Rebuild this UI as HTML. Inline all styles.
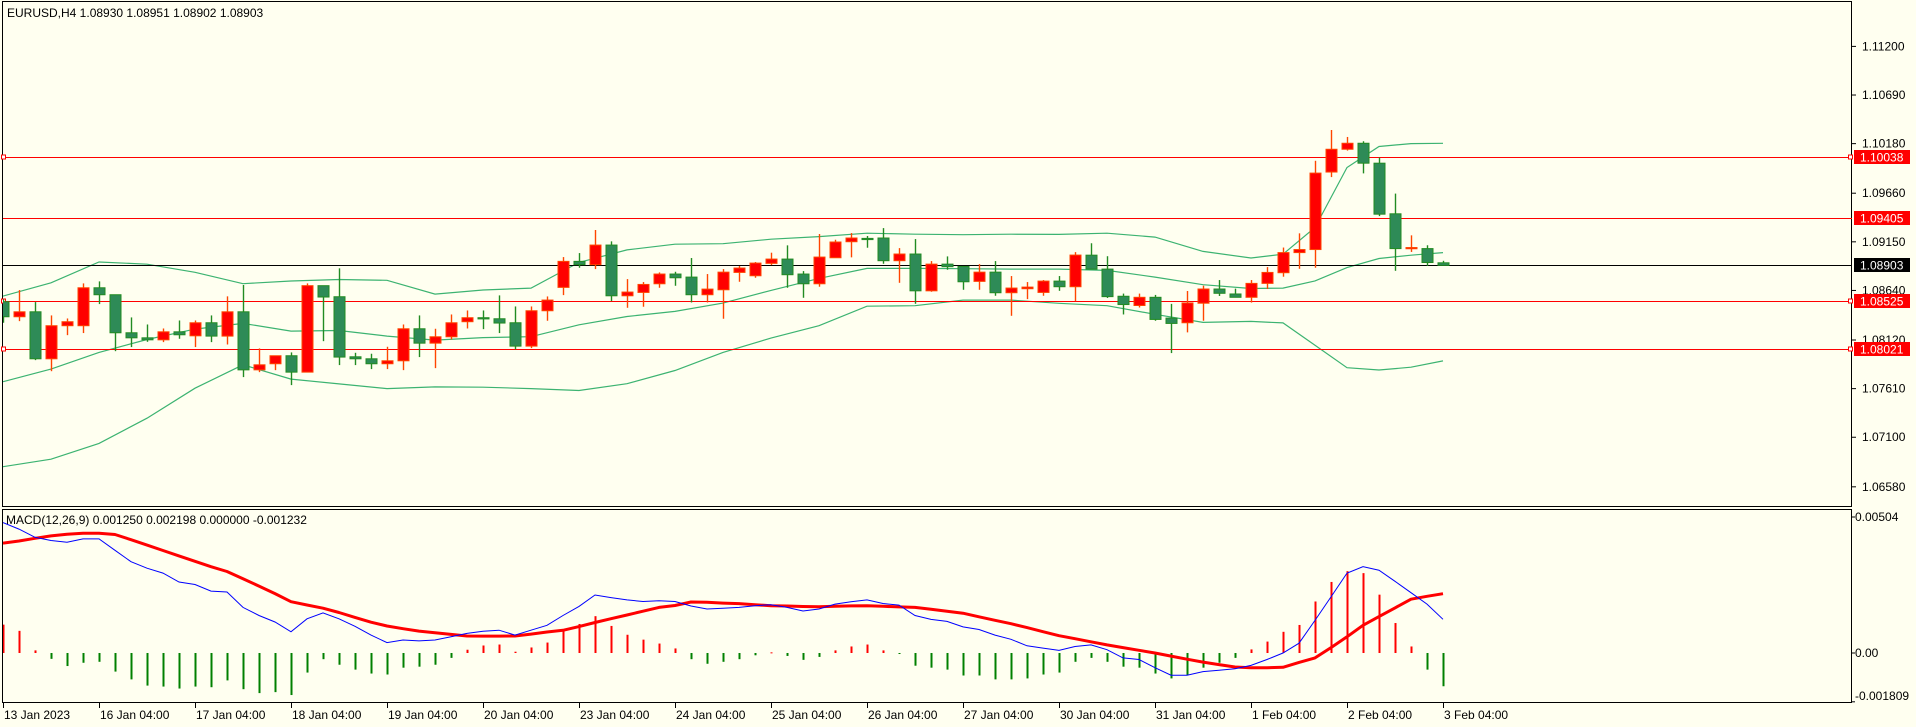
<!DOCTYPE html>
<html><head><meta charset="utf-8"><title>EURUSD,H4</title>
<style>
html,body{margin:0;padding:0;background:#fffff0;}
svg{display:block;font-family:"Liberation Sans",sans-serif;font-size:12px;}
</style></head>
<body>
<svg id="chart" width="1916" height="727" viewBox="0 0 1916 727" xmlns="http://www.w3.org/2000/svg">
<defs>
<clipPath id="mainClip"><rect x="3" y="2" width="1849" height="504"/></clipPath>
<clipPath id="macdClip"><rect x="3" y="510" width="1849" height="192"/></clipPath>
</defs>
<rect x="0" y="0" width="1916" height="727" fill="#fffff0"/>
<rect x="2.5" y="1.5" width="1849" height="505" fill="none" stroke="#000"/>
<rect x="2.5" y="509.5" width="1849" height="193" fill="none" stroke="#000"/>
<g id="bands" clip-path="url(#mainClip)"></g>
<g id="hlines"></g>
<g id="candles" clip-path="url(#mainClip)"></g>
<g id="macd" clip-path="url(#macdClip)"></g>
<g id="axes"></g>
<text x="7" y="17" fill="#000">EURUSD,H4  1.08930 1.08951 1.08902 1.08903</text>
<text x="6" y="524" fill="#000">MACD(12,26,9) 0.001250 0.002198 0.000000 -0.001232</text>
</svg>
<script>
const opens=[1.08522,1.08364,1.08416,1.07923,1.08270,1.08270,1.08668,1.08595,1.08196,1.08143,1.08122,1.08206,1.08164,1.08301,1.08161,1.08416,1.07807,1.07871,1.07955,1.07783,1.08690,1.08574,1.07944,1.07923,1.07871,1.07902,1.08238,1.08087,1.08154,1.08312,1.08354,1.08343,1.08301,1.08056,1.08427,1.08672,1.08945,1.08910,1.09116,1.08584,1.08619,1.08710,1.08812,1.08780,1.08595,1.08647,1.08829,1.08794,1.08924,1.08969,1.08812,1.08710,1.08983,1.09151,1.09186,1.09190,1.08952,1.09022,1.08636,1.08916,1.08892,1.08735,1.08832,1.08616,1.08658,1.08619,1.08738,1.08679,1.09010,1.08864,1.08579,1.08482,1.08568,1.08350,1.08301,1.08506,1.08655,1.08603,1.08568,1.08714,1.08826,1.09037,1.09069,1.09882,1.10121,1.10184,1.09975,1.09444,1.09083,1.09079,1.08930];
const highs=[1.08546,1.08644,1.08518,1.08378,1.08346,1.08714,1.08735,1.08595,1.08357,1.08283,1.08241,1.08325,1.08325,1.08378,1.08578,1.08697,1.08032,1.07955,1.07990,1.08714,1.08690,1.08872,1.07986,1.07976,1.08049,1.08283,1.08378,1.08238,1.08388,1.08430,1.08430,1.08588,1.08472,1.08472,1.08577,1.08990,1.09032,1.09274,1.09155,1.08759,1.08728,1.08829,1.08836,1.08980,1.08812,1.08864,1.08896,1.08938,1.09036,1.09113,1.08843,1.09232,1.09172,1.09242,1.09211,1.09294,1.09084,1.09179,1.08948,1.08997,1.08892,1.08916,1.08948,1.08791,1.08728,1.08749,1.08791,1.09042,1.09135,1.08999,1.08607,1.08607,1.08593,1.08499,1.08634,1.08690,1.08749,1.08659,1.08749,1.08885,1.09090,1.09239,1.10000,1.10323,1.10250,1.10205,1.10034,1.09656,1.09218,1.09114,1.08951];
const lows=[1.08301,1.08318,1.07909,1.07793,1.08171,1.08193,1.08497,1.08003,1.08046,1.08101,1.08098,1.08133,1.08046,1.08098,1.08073,1.07731,1.07783,1.07804,1.07647,1.07783,1.08108,1.07857,1.07857,1.07815,1.07815,1.07804,1.07941,1.07825,1.08126,1.08241,1.08234,1.08193,1.08021,1.08035,1.08322,1.08591,1.08878,1.08864,1.08528,1.08458,1.08469,1.08668,1.08689,1.08514,1.08514,1.08343,1.08731,1.08773,1.08906,1.08668,1.08563,1.08679,1.08983,1.08987,1.09088,1.08920,1.08720,1.08500,1.08626,1.08857,1.08647,1.08647,1.08584,1.08374,1.08549,1.08584,1.08636,1.08528,1.08864,1.08561,1.08388,1.08461,1.08322,1.07983,1.08200,1.08322,1.08582,1.08568,1.08513,1.08655,1.08784,1.08867,1.08878,1.09829,1.10107,1.09868,1.09420,1.08846,1.09044,1.08898,1.08902];
const closes=[1.08364,1.08416,1.07923,1.08270,1.08312,1.08668,1.08595,1.08196,1.08143,1.08122,1.08206,1.08175,1.08301,1.08161,1.08416,1.07807,1.07860,1.07955,1.07783,1.08690,1.08571,1.07941,1.07923,1.07871,1.07902,1.08238,1.08087,1.08154,1.08301,1.08354,1.08343,1.08298,1.08056,1.08427,1.08539,1.08945,1.08910,1.09116,1.08584,1.08623,1.08703,1.08812,1.08773,1.08595,1.08654,1.08832,1.08875,1.08927,1.08969,1.08805,1.08710,1.08990,1.09148,1.09190,1.09183,1.08952,1.09022,1.08636,1.08916,1.08889,1.08731,1.08832,1.08616,1.08665,1.08675,1.08738,1.08679,1.09011,1.08864,1.08575,1.08492,1.08568,1.08336,1.08294,1.08509,1.08655,1.08610,1.08568,1.08714,1.08829,1.09037,1.09069,1.09871,1.10121,1.10184,1.09975,1.09440,1.09079,1.09090,1.08933,1.08903];

const bandIdx=[0,3,6,9,12,15,18,21,24,27,30,33,36,39,42,45,48,51,54,57,60,63,66,69,72,75,78,80,82,84,86,88,90];
const bandUpper=[1.08581,1.08720,1.08938,1.08915,1.08830,1.08711,1.08739,1.08755,1.08746,1.08602,1.08645,1.08665,1.08934,1.09065,1.09125,1.09130,1.09178,1.09205,1.09240,1.09230,1.09225,1.09230,1.09228,1.09240,1.09200,1.09050,1.08980,1.09020,1.09300,1.09930,1.10150,1.10180,1.10184];
const bandMiddle=[1.07683,1.07815,1.07990,1.08125,1.08235,1.08294,1.08213,1.08220,1.08161,1.08119,1.08145,1.08155,1.08280,1.08367,1.08420,1.08507,1.08640,1.08766,1.08871,1.08871,1.08868,1.08864,1.08864,1.08850,1.08780,1.08700,1.08660,1.08665,1.08740,1.08880,1.08975,1.09010,1.09037];
const bandLower=[1.06791,1.06870,1.07035,1.07300,1.07615,1.07860,1.07710,1.07660,1.07610,1.07628,1.07625,1.07610,1.07590,1.07662,1.07800,1.07990,1.08140,1.08270,1.08475,1.08480,1.08539,1.08539,1.08505,1.08480,1.08390,1.08305,1.08315,1.08300,1.08065,1.07830,1.07805,1.07835,1.07901];

const levelPrices=[1.10038,1.09405,1.08525,1.08021];
const levelMarkers=[true,false,true,true];
const currentPrice=1.08903;

const macdHist=[1051,821,97,-217,-483,-362,-326,-689,-978,-1208,-1244,-1317,-1244,-1268,-1015,-1341,-1486,-1450,-1558,-725,-229,-435,-616,-761,-797,-544,-507,-435,-181,121,278,314,48,205,387,821,1075,1365,1003,676,495,350,169,-229,-399,-326,-229,-85,24,-109,-254,-145,97,242,314,97,-36,-471,-544,-616,-834,-834,-978,-978,-942,-797,-725,-326,-181,-326,-507,-544,-761,-942,-834,-544,-362,-181,133,423,785,1039,1909,2633,3032,2960,2162,1111,242,-616,-1232];
const macdSignal=[4070,4150,4250,4340,4400,4440,4440,4390,4200,4000,3800,3600,3400,3200,3020,2750,2480,2200,1900,1780,1660,1500,1320,1140,1000,900,810,750,690,630,628,628,630,700,780,840,980,1130,1270,1410,1550,1690,1760,1890,1880,1850,1830,1790,1752,1740,1725,1715,1730,1745,1752,1730,1710,1690,1620,1545,1474,1340,1210,1087,940,790,640,530,415,302,200,100,0,-115,-230,-338,-430,-520,-544,-544,-530,-350,-181,200,600,1027,1350,1670,1993,2100,2198];
const macdBlue=[4832,4590,4288,4168,4107,4228,4228,3805,3382,3141,2960,2633,2537,2295,2259,1691,1389,1148,785,1268,1486,1268,990,664,387,483,447,483,604,725,809,846,664,846,1027,1389,1727,2150,2054,1969,1909,1933,1909,1740,1631,1655,1691,1752,1788,1691,1558,1631,1812,1897,1969,1836,1776,1389,1244,1172,966,870,664,507,266,181,97,242,302,121,-181,-242,-544,-821,-821,-689,-640,-580,-459,-242,0,362,1208,2078,2960,3201,3068,2658,2235,1812,1250];

const priceTicks=["1.11200","1.10690","1.10180","1.09660","1.09150","1.08640","1.08120","1.07610","1.07100","1.06580"];
const macdTicks=["0.00504","0.00","-0.001809"];
const timeLabels=["13 Jan 2023","16 Jan 04:00","17 Jan 04:00","18 Jan 04:00","19 Jan 04:00","20 Jan 04:00","23 Jan 04:00","24 Jan 04:00","25 Jan 04:00","26 Jan 04:00","27 Jan 04:00","30 Jan 04:00","31 Jan 04:00","1 Feb 04:00","2 Feb 04:00","3 Feb 04:00"];
const timeLabelBars=[0,6,12,18,24,30,36,42,48,54,60,66,72,78,84,90];

const NS="http://www.w3.org/2000/svg";
const X=i=>3+16*i;
const PY=p=>46.4+(1.112-p)/0.0001049;
const MY=v=>653-v*1e-6*26984;
function mk(tag,parent,attrs){const e=document.createElementNS(NS,tag);for(const k in attrs)e.setAttribute(k,attrs[k]);parent.appendChild(e);return e;}

// bands
const gB=document.getElementById('bands');
[[bandUpper,'bb-upper-band'],[bandMiddle,'bb-middle-band'],[bandLower,'bb-lower-band']].forEach(([arr,name])=>{
  const d=arr.map((v,k)=>(k?'L':'M')+X(bandIdx[k]).toFixed(1)+','+PY(v).toFixed(1)).join('');
  const p=mk('path',gB,{d:d,fill:'none',stroke:'#3cb371','stroke-width':1.2});
  
  
});

// horizontal levels
const gH=document.getElementById('hlines');
levelPrices.forEach((p,k)=>{
  const y=Math.round(PY(p))+0.5;
  const l=mk('line',gH,{x1:3,x2:1852,y1:y,y2:y,stroke:'#ff0000','stroke-width':1});
  
  
  if(levelMarkers[k]){
    [1,1848].forEach(mx=>{
      const m=mk('rect',gH,{x:mx+0.5,y:y-2.5,width:4,height:4,fill:'#fff',stroke:'#ff0000','stroke-width':1});
      
      
    });
  }
});
{
  const y=Math.round(PY(currentPrice))+0.5;
  const l=mk('line',gH,{x1:3,x2:1852,y1:y,y2:y,stroke:'#000','stroke-width':1});
  
  
}

// candles
const gC=document.getElementById('candles');
opens.forEach((o,i)=>{
  const c=closes[i],h=highs[i],lo=lows[i];
  const up=c>=o;
  const x=X(i);
  const g=mk('g',gC,{});
  
  
  mk('line',g,{x1:x+0.5,x2:x+0.5,y1:PY(h),y2:PY(lo),stroke:up?'#ff4500':'#228b22','stroke-width':1.4});
  const yt=PY(Math.max(o,c)),yb=PY(Math.min(o,c));
  mk('rect',g,{x:x-5,y:yt,width:11,height:Math.max(1.2,yb-yt),fill:up?'#ff0000':'#2e8b57',stroke:up?'#ff4500':'#228b22','stroke-width':1});
});

// MACD
const gM=document.getElementById('macd');
macdHist.forEach((v,i)=>{
  const y0=MY(0),y1=MY(v);
  const r=mk('rect',gM,{x:X(i)-0.5,y:Math.min(y0,y1),width:2,height:Math.max(1,Math.abs(y1-y0)),fill:v>=0?'#ff0000':'#008000'});
  
  
});
{
  const d=macdSignal.map((v,i)=>(i?'L':'M')+X(i)+','+MY(v).toFixed(1)).join('');
  const p=mk('path',gM,{d:d,fill:'none',stroke:'#ff0000','stroke-width':3,'stroke-linejoin':'round'});
  
  
  const d2=macdBlue.map((v,i)=>(i?'L':'M')+X(i)+','+MY(v).toFixed(1)).join('');
  const p2=mk('path',gM,{d:d2,fill:'none',stroke:'#0000ff','stroke-width':1});
  
  
}

// axes
const gA=document.getElementById('axes');
priceTicks.forEach(t=>{
  const y=PY(parseFloat(t));
  mk('line',gA,{x1:1852,x2:1856,y1:y,y2:y,stroke:'#000'});
  const tx=mk('text',gA,{x:1862,y:y+4,fill:'#000'});
  tx.textContent=t;
  
  
});
macdTicks.forEach(t=>{
  const y=MY(parseFloat(t)*1e6);
  mk('line',gA,{x1:1852,x2:1855,y1:y,y2:y,stroke:'#000'});
  const tx=mk('text',gA,{x:1855,y:Math.min(y+4,700),fill:'#000'});
  tx.textContent=t;
  
  
});
levelPrices.concat([currentPrice]).forEach((p,k)=>{
  const y=Math.round(PY(p));
  const isCur=k===levelPrices.length;
  const r=mk('rect',gA,{x:1854,y:y-7,width:56,height:14,fill:isCur?'#000':'#ff0000'});
  
  
  const tx=mk('text',gA,{x:1860,y:y+4.5,fill:'#fff'});
  tx.textContent=p.toFixed(5);
  
  
});
timeLabels.forEach((t,k)=>{
  const x=X(timeLabelBars[k]);
  mk('line',gA,{x1:x+0.5,x2:x+0.5,y1:703,y2:708,stroke:'#000'});
  const tx=mk('text',gA,{x:x+1,y:719,fill:'#000'});
  tx.textContent=t;
  
  
});
</script>
</body></html>
